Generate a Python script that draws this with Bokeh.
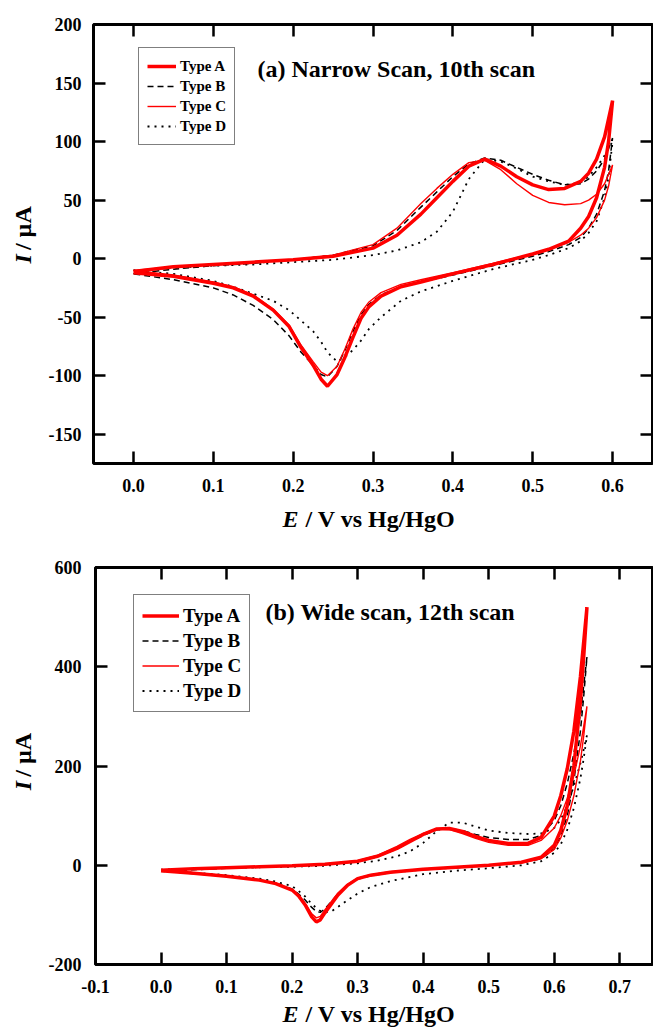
import numpy as np
from bokeh.plotting import figure
from bokeh.models import (Range1d, LinearAxis, FixedTicker, PrintfTickFormatter,
                          Legend, LegendItem, Label)
from bokeh.layouts import column, row
from bokeh.embed import file_html
from bokeh.resources import INLINE

FONT = "Liberation Serif"

# ---------------- data: (a) narrow scan, 10th scan ----------------
narrow_E_fwd = [0.00, 0.05, 0.10, 0.15, 0.20, 0.25, 0.30, 0.33, 0.36, 0.38, 0.40, 0.42,
                0.44, 0.46, 0.48, 0.50, 0.52, 0.54, 0.56, 0.57, 0.58, 0.59, 0.60]
narrow_E_rev = [0.600, 0.595, 0.590, 0.580, 0.570, 0.560, 0.545, 0.520, 0.500, 0.450, 0.400,
                0.360, 0.335, 0.310, 0.295, 0.285, 0.275, 0.265, 0.255, 0.243, 0.235, 0.225,
                0.210, 0.195, 0.175, 0.150, 0.125, 0.100, 0.050, 0.000]

narrow_A_fwd = [-11, -7, -5, -3, -1, 2, 9, 20, 38, 52, 66, 79, 85, 79, 70, 63, 59, 60, 66, 73, 85, 104, 135]
narrow_A_rev = [135, 100, 78, 52, 36, 26, 15, 8, 4, -5, -13, -20, -24, -32, -41, -51, -67, -84,
                -99, -109, -103, -91, -76, -58, -44, -32, -25, -21, -15, -12]
narrow_B_fwd = [-13, -9, -6, -4, -1, 3, 11, 24, 44, 57, 70, 81, 86, 84, 78, 72, 67, 63, 64, 68, 75, 85, 103]
narrow_B_rev = [103, 75, 58, 38, 26, 18, 12, 6, 2, -6, -14, -20, -24, -31, -39, -48, -62, -78,
                -92, -101, -99, -91, -80, -66, -52, -40, -31, -25, -18, -13]
narrow_C_fwd = [-10, -7, -5, -3, -1, 3, 12, 26, 47, 60, 72, 82, 84, 76, 64, 54, 48, 46, 47, 50, 55, 64, 80]
narrow_C_rev = [80, 62, 50, 35, 26, 20, 14, 8, 4, -4, -12, -18, -22, -29, -37, -46, -60, -77,
                -92, -100, -97, -88, -74, -57, -43, -31, -24, -20, -14, -10]
narrow_D_fwd = [-10, -8, -6, -5, -3, -1, 3, 7, 14, 23, 40, 68, 85, 83, 77, 70, 66, 63, 65, 70, 78, 88, 100]
narrow_D_rev = [100, 70, 52, 32, 22, 15, 9, 3, -1, -9, -19, -28, -36, -50, -60, -70, -78, -84,
                -88, -80, -71, -62, -53, -44, -36, -30, -24, -19, -13, -10]

# ---------------- data: (b) wide scan, 12th scan ----------------
wide_E_fwd = [0.00, 0.05, 0.10, 0.15, 0.20, 0.25, 0.30, 0.33, 0.36, 0.38, 0.40, 0.42, 0.44,
              0.46, 0.48, 0.50, 0.53, 0.56, 0.58, 0.60, 0.61, 0.62, 0.63, 0.64, 0.65]
wide_E_rev = [0.650, 0.645, 0.640, 0.630, 0.620, 0.610, 0.600, 0.580, 0.550, 0.500, 0.450,
              0.400, 0.350, 0.320, 0.300, 0.285, 0.270, 0.260, 0.250, 0.243, 0.237, 0.230,
              0.220, 0.210, 0.200, 0.175, 0.150, 0.100, 0.050, 0.000]

wide_A_fwd = [-10, -7, -5, -3, -1, 2, 8, 18, 34, 48, 62, 73, 74, 68, 58, 50, 44, 44, 56, 99,
              140, 195, 270, 380, 520]
wide_A_rev = [520, 420, 330, 200, 120, 70, 40, 16, 6, 0, -4, -8, -14, -20, -27, -40, -60, -78,
              -96, -110, -114, -104, -80, -62, -50, -37, -30, -22, -16, -11]
wide_B_fwd = [-12, -9, -6, -4, -2, 1, 7, 17, 33, 47, 60, 71, 74, 70, 62, 56, 52, 52, 60, 90,
              120, 165, 225, 305, 420]
wide_B_rev = [420, 340, 270, 170, 100, 58, 33, 13, 5, -1, -5, -9, -15, -21, -28, -40, -58, -73,
              -88, -95, -93, -85, -70, -58, -48, -36, -30, -22, -17, -12]
wide_C_fwd = [-10, -7, -5, -3, -1, 2, 9, 20, 38, 52, 64, 73, 72, 64, 54, 46, 40, 40, 50, 75,
              100, 135, 180, 240, 320]
wide_C_rev = [320, 260, 210, 140, 90, 55, 32, 13, 5, 0, -4, -8, -13, -19, -26, -38, -56, -73,
              -90, -103, -106, -98, -77, -60, -49, -36, -29, -21, -15, -10]
wide_D_fwd = [-9, -7, -5, -4, -3, -1, 4, 9, 18, 28, 45, 68, 86, 86, 78, 70, 65, 63, 64, 75,
              92, 120, 160, 205, 262]
wide_D_rev = [262, 215, 175, 115, 72, 42, 25, 8, 0, -6, -11, -18, -32, -44, -57, -70, -84, -93,
              -95, -92, -86, -78, -63, -52, -42, -33, -27, -20, -15, -10]

series_names = ["Type A", "Type B", "Type C", "Type D"]

narrow_x_ticks = [0.0, 0.1, 0.2, 0.3, 0.4, 0.5, 0.6]
narrow_y_ticks = [-150, -100, -50, 0, 50, 100, 150, 200]
wide_x_ticks = [-0.1, 0.0, 0.1, 0.2, 0.3, 0.4, 0.5, 0.6, 0.7]
wide_y_ticks = [-200, 0, 200, 400, 600]

STYLES = {
    "Type A": dict(line_color="#ff0000", line_width=3.5),
    "Type B": dict(line_color="black", line_width=1.5, line_dash="6 4"),
    "Type C": dict(line_color="#ff0000", line_width=1.4),
    "Type D": dict(line_color="black", line_width=1.8, line_dash="2 5"),
}


def add_axes(p, xticks, yticks, xstand, ystand):
    specs = [("below", "x", True, xstand), ("above", "x", False, 0),
             ("left", "y", True, ystand), ("right", "y", False, 0)]
    for place, dim, labels, stand in specs:
        ax = LinearAxis()
        ticks = xticks if dim == "x" else yticks
        ax.ticker = FixedTicker(ticks=ticks)
        ax.formatter = PrintfTickFormatter(format="%.1f" if dim == "x" else "%d")
        ax.major_tick_in = 12
        ax.major_tick_out = 0
        ax.major_tick_line_width = 2.5
        ax.major_tick_line_color = "black"
        ax.minor_tick_line_color = None
        ax.axis_line_color = None
        ax.major_label_text_font = FONT
        ax.major_label_text_font_style = "bold"
        ax.major_label_text_font_size = "18px"
        ax.major_label_text_color = "black"
        ax.major_label_standoff = stand
        if not labels:
            ax.major_label_overrides = {t: "" for t in ticks}
            ax.major_label_text_font_size = "0px"
        p.add_layout(ax, place)


def text_label(text, x, y, style, angle=0.0):
    return Label(x=x, y=y, text=text,
                 text_font=FONT, text_font_style=style, text_font_size="24px",
                 text_align="left", text_baseline="alphabetic", text_color="black",
                 angle=angle)


def text_fig(w, h):
    # a bare strip (frame = whole figure, data units = pixels) that holds axis titles
    f = figure(width=w, height=h, x_range=Range1d(0, w), y_range=Range1d(0, h),
               output_backend="svg", toolbar_location=None,
               x_axis_location=None, y_axis_location=None, min_border=0,
               min_border_left=0, min_border_right=0, min_border_top=0, min_border_bottom=0)
    f.grid.grid_line_color = None
    f.outline_line_color = None
    f.background_fill_color = "white"
    f.border_fill_color = "white"
    return f


def xlabel_fig(w, h, ex, rx, by):
    f = text_fig(w, h)
    f.add_layout(text_label("E", ex, by, "bold italic"))
    f.add_layout(text_label("/ V vs Hg/HgO", rx, by, "bold"))
    return f


def ylabel_fig(w, h, bx, iy, ry):
    f = text_fig(w, h)
    f.add_layout(text_label("I", bx, iy, "bold italic", np.pi / 2))
    f.add_layout(text_label("/ \u00b5A", bx, ry, "bold", np.pi / 2))
    return f


def make_panel(width, height, xr, yr, borders, E_fwd, E_rev, curves, xticks, yticks,
               xstand, ystand, legend_cfg, title_cfg):
    left, right, top, bottom = borders
    p = figure(width=width, height=height, x_range=Range1d(*xr), y_range=Range1d(*yr),
               output_backend="svg", toolbar_location=None,
               x_axis_location=None, y_axis_location=None,
               min_border_left=left, min_border_right=right,
               min_border_top=top, min_border_bottom=bottom)
    p.grid.grid_line_color = None
    p.outline_line_color = "black"
    p.outline_line_width = 3
    p.background_fill_color = "white"
    p.border_fill_color = "white"
    add_axes(p, xticks, yticks, xstand, ystand)

    E_loop = list(E_fwd) + list(E_rev)
    renderers = {}
    for name in ["Type D", "Type B", "Type C", "Type A"]:
        fwd, rev = curves[name]
        renderers[name] = p.line(E_loop, list(fwd) + list(rev), **STYLES[name])

    gw, gh, fs, loc = legend_cfg
    legend = Legend(items=[LegendItem(label=n, renderers=[renderers[n]]) for n in series_names],
                    location=loc, glyph_width=gw, glyph_height=gh, label_height=gh,
                    label_standoff=4, padding=8, spacing=0, margin=0,
                    border_line_color="black", border_line_width=1,
                    background_fill_color="white", background_fill_alpha=1,
                    label_text_font=FONT, label_text_font_style="bold",
                    label_text_font_size=fs, label_text_color="black")
    p.add_layout(legend)

    tx, ty, ttext = title_cfg
    p.add_layout(Label(x=tx, y=ty, text=ttext, text_font=FONT, text_font_style="bold",
                       text_font_size="24px", text_align="left", text_baseline="alphabetic",
                       text_color="black"))
    return p


# top block: y 0..505 (frame 24..463, x 93..652), x-title strip 505..540
p1 = make_panel(
    613, 505, (-0.05, 0.65), (-175, 200), (53, 1, 24, 42),
    narrow_E_fwd, narrow_E_rev,
    {"Type A": (narrow_A_fwd, narrow_A_rev), "Type B": (narrow_B_fwd, narrow_B_rev),
     "Type C": (narrow_C_fwd, narrow_C_rev), "Type D": (narrow_D_fwd, narrow_D_rev)},
    narrow_x_ticks, narrow_y_ticks, 15, 12,
    (29, 20, "15px", (45, 318)),
    (0.1554, 162.4, "(a) Narrow Scan, 10th scan"),
)
y1 = ylabel_fig(40, 505, 22, 230, 245.5)
x1 = xlabel_fig(653, 35, 282, 305, 22)

# bottom block: y 540..1000 (frame 567..964, x 95..652), x-title strip 1000..1029
p2 = make_panel(
    613, 460, (-0.1, 0.75), (-200, 600), (55, 1, 27, 36),
    wide_E_fwd, wide_E_rev,
    {"Type A": (wide_A_fwd, wide_A_rev), "Type B": (wide_B_fwd, wide_B_rev),
     "Type C": (wide_C_fwd, wide_C_rev), "Type D": (wide_D_fwd, wide_D_rev)},
    wide_x_ticks, wide_y_ticks, 15, 14,
    (37, 25, "19px", (38, 252)),
    (0.1594, 511.3, "(b) Wide scan, 12th scan"),
)
y2 = ylabel_fig(40, 460, 22, 202, 217.5)
x2 = xlabel_fig(653, 29, 282, 305, 16)

layout = column(row(y1, p1, spacing=0), x1, row(y2, p2, spacing=0), x2, spacing=0)
open("out.html", "w").write(file_html(layout, INLINE))
